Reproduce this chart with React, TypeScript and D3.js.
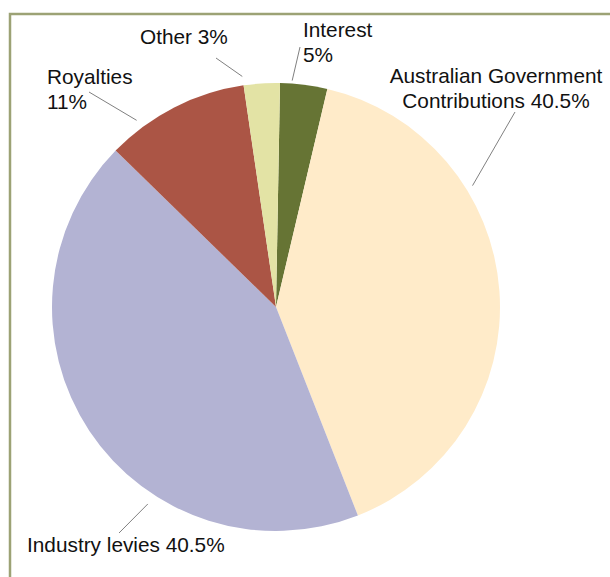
import React from "react";
import * as d3 from "d3";

const categories = ["Interest", "Australian Government Contributions", "Industry levies", "Royalties", "Other"];
const values = [3.4, 40.4, 43.3, 10.4, 2.6];
const labelLines = [
  ["Interest", "5%"],
  ["Australian Government", "Contributions 40.5%"],
  ["Industry levies 40.5%"],
  ["Royalties", "11%"],
  ["Other 3%"],
];
const colors = ["#667434", "#FFEBC9", "#B3B3D3", "#AB5545", "#E3E3A5"];

// Label layout (positions, alignment, leader geometry)
const labelLayout = [
  { x: 303, y: 37, anchor: "start", lx: 300, ly: 47, frac: 0.25, off: 3 },
  { x: 496, y: 83, anchor: "middle", lx: 515, ly: 112, frac: 0.31, off: 7 },
  { x: 27, y: 552, anchor: "start", lx: 119, ly: 533, frac: 0.35, off: 11 },
  { x: 47, y: 84, anchor: "start", lx: 89, ly: 92, frac: 0.24, off: 9 },
  { x: 140, y: 44, anchor: "start", lx: 216, ly: 58, frac: 0.0, off: 9 },
];

const W = 610;
const H = 577;
const cx = 276;
const cy = 307;
const R = 224;
const startDeg = 1.03;

export default function App() {
  const start = (startDeg * Math.PI) / 180;
  const pie = d3
    .pie<number>()
    .sort(null)
    .value((d) => d)
    .startAngle(start)
    .endAngle(start + 2 * Math.PI);
  const arcs = pie(values);
  const arc = d3.arc<d3.PieArcDatum<number>>().innerRadius(0).outerRadius(R);

  return (
    <svg
      width={W}
      height={H}
      style={{ position: "absolute", left: 0, top: 0, background: "#fff" }}
      fontFamily="'Liberation Sans', Arial, sans-serif"
    >
      <rect x={10} y={14} width={800} height={800} fill="none" stroke="#9CA275" strokeWidth={2.5} />
      <g transform={`translate(${cx},${cy})`}>
        {arcs.map((a, i) => (
          <path key={categories[i]} d={arc(a) || ""} fill={colors[i]} />
        ))}
      </g>
      {arcs.map((a, i) => {
        const L = labelLayout[i];
        const ang = a.startAngle + (a.endAngle - a.startAngle) * L.frac;
        const rr = R + L.off;
        const px = cx + rr * Math.sin(ang);
        const py = cy - rr * Math.cos(ang);
        return (
          <g key={"l" + i}>
            <line x1={L.lx} y1={L.ly} x2={px} y2={py} stroke="#808080" strokeWidth={1} />
            <text x={L.x} y={L.y} textAnchor={L.anchor} fontSize={20.8} fill="#111">
              {labelLines[i].map((t, j) => (
                <tspan key={j} x={L.x} dy={j === 0 ? 0 : 25}>
                  {t}
                </tspan>
              ))}
            </text>
          </g>
        );
      })}
    </svg>
  );
}
